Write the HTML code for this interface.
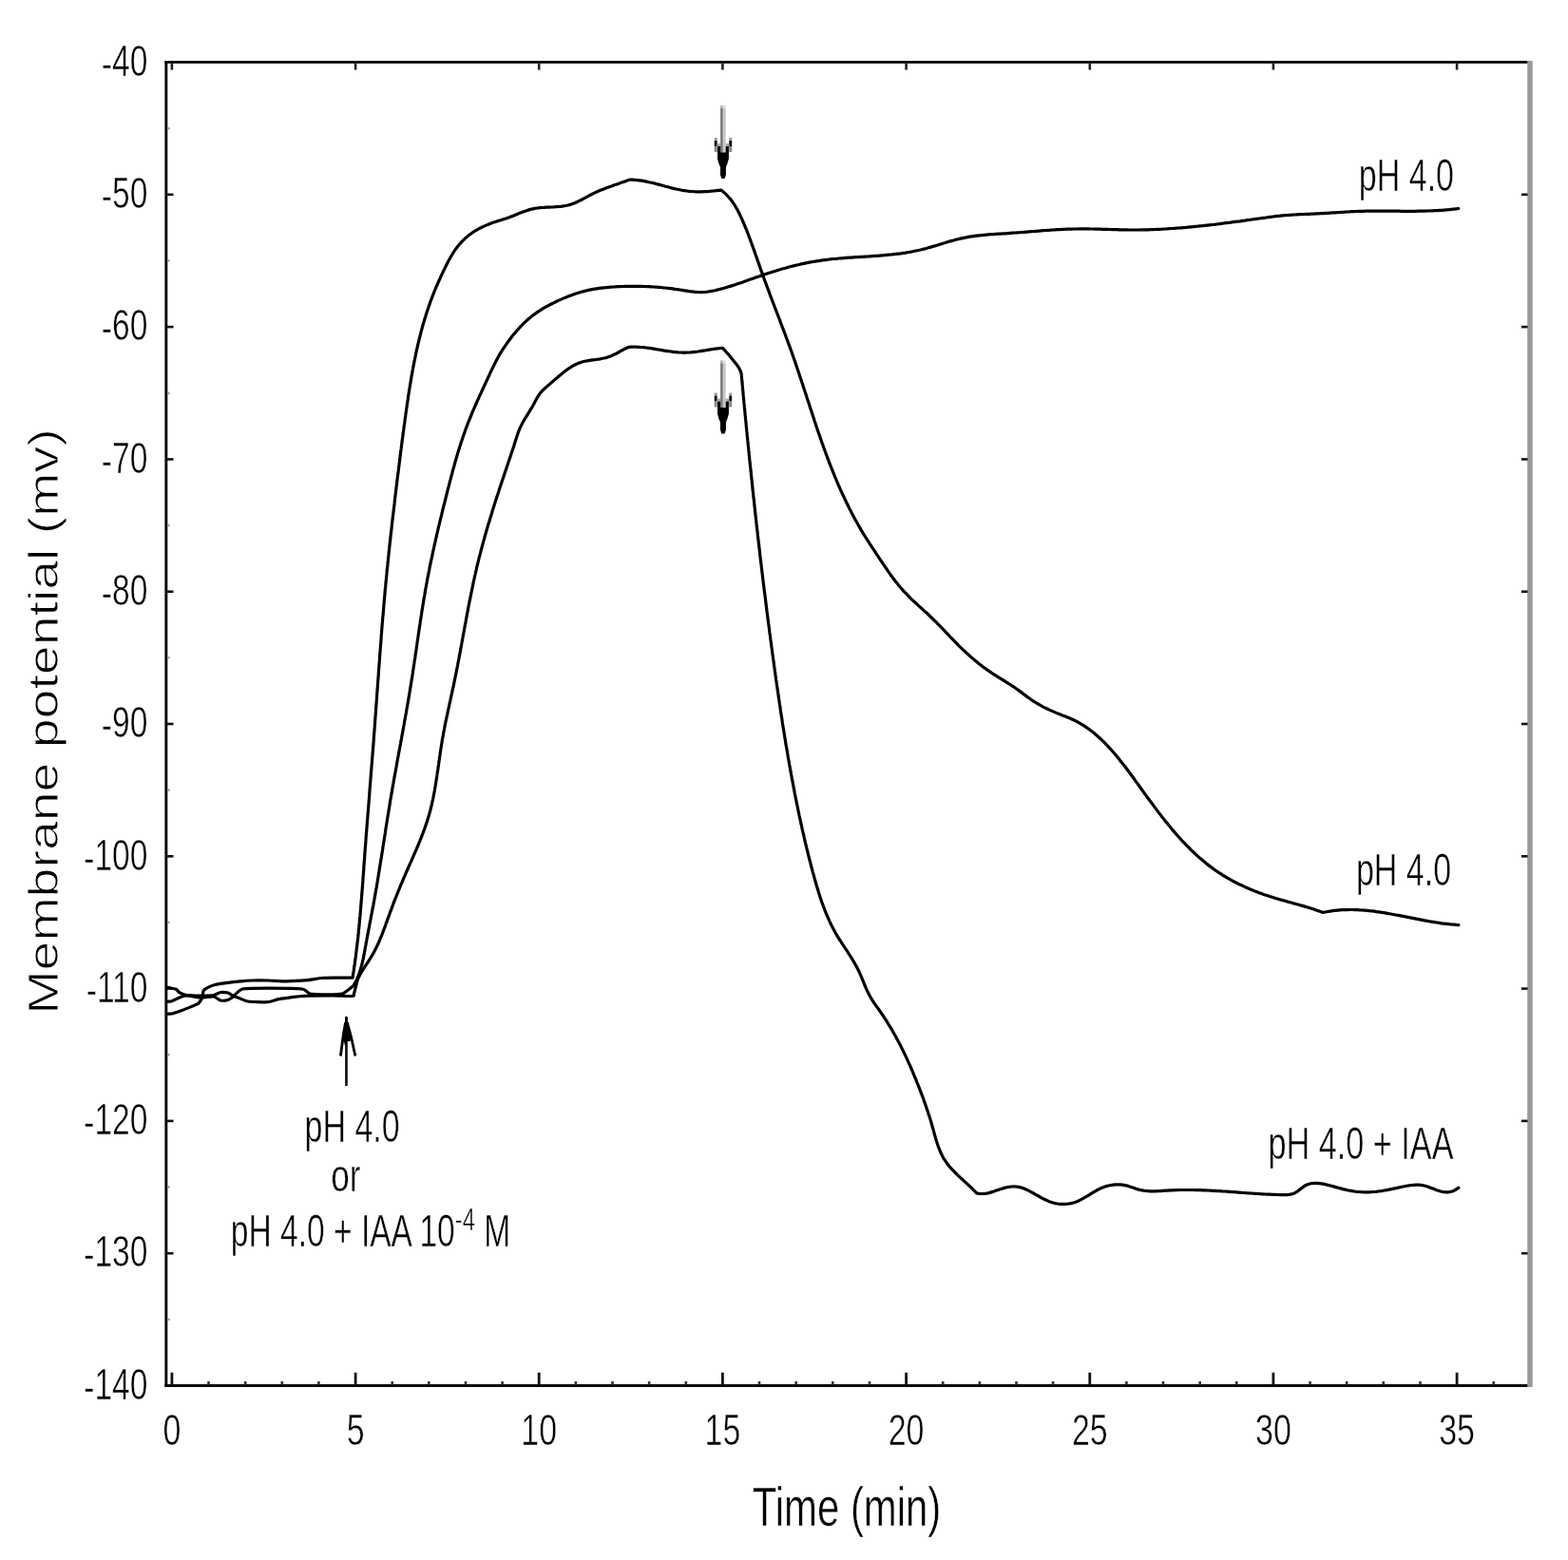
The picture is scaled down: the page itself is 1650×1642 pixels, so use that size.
<!DOCTYPE html>
<html><head><meta charset="utf-8"><title>Membrane potential vs time</title>
<style>html,body{margin:0;padding:0;background:#fff;}svg{display:block;}
text{font-family:"Liberation Sans",Arial,sans-serif;fill:#000;stroke:#fff;stroke-width:0.55px;}</style></head>
<body><svg width="1650" height="1642" viewBox="0 0 1650 1642">
<rect width="1650" height="1642" fill="#fff"/>
<rect x="173.5" y="64" width="1436" height="2.8" fill="#000"/>
<rect x="173.4" y="64" width="2.9" height="1396" fill="#000"/>
<rect x="173.4" y="1457" width="1436.5" height="2.9" fill="#000"/>
<rect x="1607.2" y="64" width="5.5" height="1396" fill="#9a9a9a"/>
<rect x="179.5" y="1444.7" width="2.8" height="13" fill="#111"/>
<rect x="179.6" y="66" width="2.6" height="7.5" fill="#222"/>
<rect x="218.2" y="1454" width="2.6" height="3.5" fill="#333"/>
<rect x="256.9" y="1454" width="2.6" height="3.5" fill="#333"/>
<rect x="295.5" y="1454" width="2.6" height="3.5" fill="#333"/>
<rect x="334.1" y="1454" width="2.6" height="3.5" fill="#333"/>
<rect x="372.7" y="1444.7" width="2.8" height="13" fill="#111"/>
<rect x="372.8" y="66" width="2.6" height="7.5" fill="#222"/>
<rect x="411.4" y="1454" width="2.6" height="3.5" fill="#333"/>
<rect x="450.0" y="1454" width="2.6" height="3.5" fill="#333"/>
<rect x="488.7" y="1454" width="2.6" height="3.5" fill="#333"/>
<rect x="527.3" y="1454" width="2.6" height="3.5" fill="#333"/>
<rect x="565.8" y="1444.7" width="2.8" height="13" fill="#111"/>
<rect x="565.9" y="66" width="2.6" height="7.5" fill="#222"/>
<rect x="604.6" y="1454" width="2.6" height="3.5" fill="#333"/>
<rect x="643.2" y="1454" width="2.6" height="3.5" fill="#333"/>
<rect x="681.8" y="1454" width="2.6" height="3.5" fill="#333"/>
<rect x="720.5" y="1454" width="2.6" height="3.5" fill="#333"/>
<rect x="759.0" y="1444.7" width="2.8" height="13" fill="#111"/>
<rect x="759.1" y="66" width="2.6" height="7.5" fill="#222"/>
<rect x="797.7" y="1454" width="2.6" height="3.5" fill="#333"/>
<rect x="836.4" y="1454" width="2.6" height="3.5" fill="#333"/>
<rect x="875.0" y="1454" width="2.6" height="3.5" fill="#333"/>
<rect x="913.7" y="1454" width="2.6" height="3.5" fill="#333"/>
<rect x="952.2" y="1444.7" width="2.8" height="13" fill="#111"/>
<rect x="952.3" y="66" width="2.6" height="7.5" fill="#222"/>
<rect x="990.9" y="1454" width="2.6" height="3.5" fill="#333"/>
<rect x="1029.6" y="1454" width="2.6" height="3.5" fill="#333"/>
<rect x="1068.2" y="1454" width="2.6" height="3.5" fill="#333"/>
<rect x="1106.8" y="1454" width="2.6" height="3.5" fill="#333"/>
<rect x="1145.4" y="1444.7" width="2.8" height="13" fill="#111"/>
<rect x="1145.5" y="66" width="2.6" height="7.5" fill="#222"/>
<rect x="1184.1" y="1454" width="2.6" height="3.5" fill="#333"/>
<rect x="1222.7" y="1454" width="2.6" height="3.5" fill="#333"/>
<rect x="1261.4" y="1454" width="2.6" height="3.5" fill="#333"/>
<rect x="1300.0" y="1454" width="2.6" height="3.5" fill="#333"/>
<rect x="1338.5" y="1444.7" width="2.8" height="13" fill="#111"/>
<rect x="1338.6" y="66" width="2.6" height="7.5" fill="#222"/>
<rect x="1377.3" y="1454" width="2.6" height="3.5" fill="#333"/>
<rect x="1415.9" y="1454" width="2.6" height="3.5" fill="#333"/>
<rect x="1454.5" y="1454" width="2.6" height="3.5" fill="#333"/>
<rect x="1493.2" y="1454" width="2.6" height="3.5" fill="#333"/>
<rect x="1531.7" y="1444.7" width="2.8" height="13" fill="#111"/>
<rect x="1531.8" y="66" width="2.6" height="7.5" fill="#222"/>
<rect x="1570.4" y="1454" width="2.6" height="3.5" fill="#333"/>
<rect x="176" y="203.5" width="6.5" height="2.6" fill="#111"/>
<rect x="1601" y="203.5" width="6.5" height="2.6" fill="#111"/>
<rect x="176" y="342.8" width="6.5" height="2.6" fill="#111"/>
<rect x="1601" y="342.8" width="6.5" height="2.6" fill="#111"/>
<rect x="176" y="482.1" width="6.5" height="2.6" fill="#111"/>
<rect x="1601" y="482.1" width="6.5" height="2.6" fill="#111"/>
<rect x="176" y="621.4" width="6.5" height="2.6" fill="#111"/>
<rect x="1601" y="621.4" width="6.5" height="2.6" fill="#111"/>
<rect x="176" y="760.7" width="6.5" height="2.6" fill="#111"/>
<rect x="1601" y="760.7" width="6.5" height="2.6" fill="#111"/>
<rect x="176" y="900.0" width="6.5" height="2.6" fill="#111"/>
<rect x="1601" y="900.0" width="6.5" height="2.6" fill="#111"/>
<rect x="176" y="1039.3" width="6.5" height="2.6" fill="#111"/>
<rect x="1601" y="1039.3" width="6.5" height="2.6" fill="#111"/>
<rect x="176" y="1178.6" width="6.5" height="2.6" fill="#111"/>
<rect x="1601" y="1178.6" width="6.5" height="2.6" fill="#111"/>
<rect x="176" y="1317.9" width="6.5" height="2.6" fill="#111"/>
<rect x="1601" y="1317.9" width="6.5" height="2.6" fill="#111"/>
<rect x="176" y="134.0" width="2.5" height="2.4" fill="#999"/>
<rect x="176" y="273.2" width="2.5" height="2.4" fill="#999"/>
<rect x="176" y="412.6" width="2.5" height="2.4" fill="#999"/>
<rect x="176" y="551.8" width="2.5" height="2.4" fill="#999"/>
<rect x="176" y="691.1" width="2.5" height="2.4" fill="#999"/>
<rect x="176" y="830.4" width="2.5" height="2.4" fill="#999"/>
<rect x="176" y="969.8" width="2.5" height="2.4" fill="#999"/>
<rect x="176" y="1109.0" width="2.5" height="2.4" fill="#999"/>
<rect x="176" y="1248.3" width="2.5" height="2.4" fill="#999"/>
<rect x="176" y="1387.6" width="2.5" height="2.4" fill="#999"/>
<text x="0" y="0" transform="translate(155.3,79.7) scale(0.721,1)" text-anchor="end" font-size="46.5"><tspan dy="3">-</tspan><tspan dy="-3">40</tspan></text>
<text x="0" y="0" transform="translate(155.3,219.0) scale(0.721,1)" text-anchor="end" font-size="46.5"><tspan dy="3">-</tspan><tspan dy="-3">50</tspan></text>
<text x="0" y="0" transform="translate(155.3,358.3) scale(0.721,1)" text-anchor="end" font-size="46.5"><tspan dy="3">-</tspan><tspan dy="-3">60</tspan></text>
<text x="0" y="0" transform="translate(155.3,497.6) scale(0.721,1)" text-anchor="end" font-size="46.5"><tspan dy="3">-</tspan><tspan dy="-3">70</tspan></text>
<text x="0" y="0" transform="translate(155.3,636.9) scale(0.721,1)" text-anchor="end" font-size="46.5"><tspan dy="3">-</tspan><tspan dy="-3">80</tspan></text>
<text x="0" y="0" transform="translate(155.3,776.2) scale(0.721,1)" text-anchor="end" font-size="46.5"><tspan dy="3">-</tspan><tspan dy="-3">90</tspan></text>
<text x="0" y="0" transform="translate(155.3,915.5) scale(0.721,1)" text-anchor="end" font-size="46.5"><tspan dy="3">-</tspan><tspan dy="-3">100</tspan></text>
<text x="0" y="0" transform="translate(155.3,1054.8) scale(0.721,1)" text-anchor="end" font-size="46.5"><tspan dy="3">-</tspan><tspan dy="-3">110</tspan></text>
<text x="0" y="0" transform="translate(155.3,1194.1) scale(0.721,1)" text-anchor="end" font-size="46.5"><tspan dy="3">-</tspan><tspan dy="-3">120</tspan></text>
<text x="0" y="0" transform="translate(155.3,1333.4) scale(0.721,1)" text-anchor="end" font-size="46.5"><tspan dy="3">-</tspan><tspan dy="-3">130</tspan></text>
<text x="0" y="0" transform="translate(155.3,1472.7) scale(0.721,1)" text-anchor="end" font-size="46.5"><tspan dy="3">-</tspan><tspan dy="-3">140</tspan></text>
<text x="0" y="0" transform="translate(180.9,1521.2) scale(0.73,1)" text-anchor="middle" font-size="46.5">0</text>
<text x="0" y="0" transform="translate(374.1,1521.2) scale(0.73,1)" text-anchor="middle" font-size="46.5">5</text>
<text x="0" y="0" transform="translate(567.2,1521.2) scale(0.73,1)" text-anchor="middle" font-size="46.5">10</text>
<text x="0" y="0" transform="translate(760.4,1521.2) scale(0.73,1)" text-anchor="middle" font-size="46.5">15</text>
<text x="0" y="0" transform="translate(953.6,1521.2) scale(0.73,1)" text-anchor="middle" font-size="46.5">20</text>
<text x="0" y="0" transform="translate(1146.8,1521.2) scale(0.73,1)" text-anchor="middle" font-size="46.5">25</text>
<text x="0" y="0" transform="translate(1339.9,1521.2) scale(0.73,1)" text-anchor="middle" font-size="46.5">30</text>
<text x="0" y="0" transform="translate(1533.1,1521.2) scale(0.73,1)" text-anchor="middle" font-size="46.5">35</text>
<text x="0" y="0" transform="translate(891,1605.8) scale(0.735,1)" text-anchor="middle" font-size="57">Time (min)</text>
<text x="0" y="0" transform="translate(61,759.5) rotate(-90) scale(1.246,1)" text-anchor="middle" font-size="44.5" style="stroke-width:0.9px">Membrane potential (mv)</text>
<text x="0" y="0" transform="translate(1530,200.7) scale(0.716,1)" text-anchor="end" font-size="47.5">pH 4.0</text>
<text x="0" y="0" transform="translate(1527.1,931.5) scale(0.716,1)" text-anchor="end" font-size="47.5">pH 4.0</text>
<text x="0" y="0" transform="translate(1529.5,1220.2) scale(0.706,1)" text-anchor="end" font-size="48.5">pH 4.0 + IAA</text>
<text x="0" y="0" transform="translate(370.6,1201.6) scale(0.708,1)" text-anchor="middle" font-size="48">pH 4.0</text>
<text x="0" y="0" transform="translate(363.8,1254) scale(0.73,1)" text-anchor="middle" font-size="48">or</text>
<text x="0" y="0" transform="translate(390,1312.1) scale(0.699,1)" text-anchor="middle" font-size="48">pH 4.0 + IAA 10<tspan font-size="34" dy="-17">-4</tspan><tspan dy="17"> M</tspan></text>
<path d="M176.5,1067.2 C177.1,1067.2 180.4,1067.1 182.0,1066.7 C183.6,1066.3 190.0,1064.0 192.0,1063.3 C194.0,1062.6 200.3,1060.0 202.0,1059.3 C203.7,1058.6 207.6,1057.2 208.7,1056.3 C209.8,1055.4 212.1,1051.4 212.7,1050.0 C213.3,1048.6 213.4,1043.3 214.7,1042.0 C216.0,1040.7 222.2,1037.5 225.3,1036.7 C228.4,1035.9 241.3,1034.2 245.3,1033.7 C249.3,1033.2 261.6,1032.2 265.3,1032.0 C269.0,1031.8 278.4,1031.9 282.0,1032.0 C285.6,1032.1 297.6,1032.8 301.8,1032.8 C306.0,1032.8 320.0,1032.0 323.6,1031.7 C327.2,1031.4 335.3,1029.8 338.2,1029.5 C341.1,1029.2 349.4,1029.2 352.7,1029.2 C356.0,1029.2 369.2,1029.2 371.0,1029.2 L371.0,1029.2 L371.4,1026.7 L371.8,1024.2 L372.2,1021.8 L372.5,1019.3 L372.9,1016.8 L373.3,1014.3 L373.6,1011.8 L373.9,1009.4 L374.3,1006.9 L374.6,1004.4 L374.9,1001.9 L375.2,999.4 L375.5,996.9 L375.8,994.4 L376.1,991.9 L376.4,989.5 L376.7,987.0 L376.9,984.5 L377.2,982.0 L377.4,979.5 L377.7,977.0 L377.9,974.5 L378.2,972.0 L378.4,969.5 L378.6,967.0 L378.9,964.5 L379.1,962.0 L379.3,959.5 L379.5,957.0 L379.7,954.5 L379.9,952.0 L380.1,949.5 L380.3,947.0 L380.5,944.5 L380.7,942.0 L380.9,939.5 L381.1,937.0 L381.3,934.5 L381.5,932.0 L381.7,929.5 L381.9,927.0 L382.0,924.5 L382.2,922.0 L382.4,919.5 L382.6,917.0 L382.8,914.5 L382.9,912.0 L383.1,909.5 L383.3,907.0 L383.5,904.5 L383.7,902.0 L383.8,899.5 L384.0,897.0 L384.2,894.5 L384.4,892.0 L384.6,889.5 L384.8,887.0 L385.0,884.5 L385.1,882.1 L385.3,879.6 L385.5,877.1 L385.7,874.6 L385.9,872.1 L386.1,869.6 L386.3,867.1 L386.5,864.6 L386.7,862.1 L386.9,859.6 L387.1,857.1 L387.3,854.6 L387.5,852.1 L387.7,849.6 L387.9,847.1 L388.1,844.6 L388.3,842.1 L388.5,839.6 L388.7,837.1 L388.8,834.6 L389.0,832.1 L389.2,829.6 L389.4,827.1 L389.6,824.6 L389.8,822.1 L390.0,819.6 L390.2,817.1 L390.4,814.6 L390.6,812.1 L390.8,809.6 L391.0,807.1 L391.2,804.6 L391.4,802.1 L391.6,799.6 L391.8,797.1 L392.0,794.6 L392.2,792.1 L392.4,789.6 L392.6,787.1 L392.8,784.6 L393.0,782.1 L393.2,779.6 L393.3,777.1 L393.5,774.6 L393.7,772.1 L393.9,769.6 L394.1,767.1 L394.3,764.6 L394.5,762.1 L394.6,759.7 L394.8,757.2 L395.0,754.7 L395.2,752.2 L395.4,749.7 L395.6,747.1 L395.7,744.6 L395.9,742.1 L396.1,739.6 L396.3,737.1 L396.5,734.6 L396.6,732.1 L396.8,729.6 L397.0,727.1 L397.2,724.6 L397.4,722.1 L397.5,719.6 L397.7,717.1 L397.9,714.6 L398.1,712.1 L398.3,709.6 L398.4,707.1 L398.6,704.6 L398.8,702.1 L399.0,699.6 L399.2,697.1 L399.4,694.6 L399.5,692.1 L399.7,689.6 L399.9,687.1 L400.1,684.6 L400.3,682.1 L400.5,679.6 L400.7,677.1 L400.9,674.6 L401.1,672.1 L401.2,669.6 L401.4,667.1 L401.6,664.6 L401.8,662.1 L402.0,659.6 L402.2,657.1 L402.4,654.6 L402.6,652.1 L402.8,649.6 L403.1,647.1 L403.3,644.6 L403.5,642.1 L403.7,639.6 L403.9,637.1 L404.1,634.6 L404.3,632.1 L404.5,629.6 L404.8,627.1 L405.0,624.6 L405.2,622.2 L405.4,619.7 L405.7,617.2 L405.9,614.7 L406.1,612.2 L406.4,609.7 L406.6,607.2 L406.9,604.7 L407.1,602.2 L407.3,599.7 L407.6,597.2 L407.9,594.7 L408.1,592.2 L408.4,589.7 L408.6,587.2 L408.9,584.7 L409.1,582.2 L409.4,579.7 L409.7,577.2 L409.9,574.7 L410.2,572.2 L410.5,569.8 L410.8,567.3 L411.0,564.8 L411.3,562.3 L411.6,559.8 L411.9,557.3 L412.2,554.8 L412.4,552.3 L412.7,549.8 L413.0,547.3 L413.3,544.8 L413.6,542.4 L413.9,539.9 L414.2,537.4 L414.5,534.9 L414.8,532.4 L415.1,529.9 L415.3,527.4 L415.6,524.9 L415.9,522.4 L416.2,520.0 L416.5,517.5 L416.8,515.0 L417.1,512.5 L417.4,510.0 L417.7,507.5 L418.0,505.0 L418.3,502.6 L418.6,500.1 L419.0,497.6 L419.3,495.1 L419.6,492.6 L419.9,490.1 L420.2,487.6 L420.5,485.2 L420.8,482.7 L421.1,480.2 L421.4,477.7 L421.7,475.2 L422.1,472.7 L422.4,470.3 L422.7,467.8 L423.0,465.3 L423.3,462.8 L423.7,460.3 L424.0,457.8 L424.3,455.3 L424.7,452.9 L425.0,450.4 L425.3,447.9 L425.7,445.4 L426.0,442.9 L426.3,440.4 L426.7,437.9 L427.0,435.5 L427.4,433.0 L427.7,430.5 L428.1,428.0 L428.4,425.5 L428.8,423.0 L429.2,420.5 L429.5,418.0 L429.9,415.6 L430.3,413.1 L430.7,410.6 L431.1,408.1 L431.5,405.6 L431.9,403.2 L432.3,400.7 L432.7,398.2 L433.1,395.7 L433.6,393.3 L434.0,390.8 L434.5,388.3 L434.9,385.9 L435.4,383.4 L435.9,380.9 L436.4,378.5 L436.9,376.0 L437.4,373.6 L437.9,371.1 L438.4,368.7 L439.0,366.2 L439.5,363.8 L440.1,361.3 L440.7,358.9 L441.3,356.5 L441.9,354.1 L442.5,351.6 L443.1,349.2 L443.8,346.8 L444.4,344.4 L445.1,342.0 L445.8,339.6 L446.5,337.2 L447.2,334.8 L448.0,332.4 L448.7,330.0 L449.5,327.7 L450.3,325.3 L451.1,322.9 L451.9,320.6 L452.7,318.2 L453.6,315.9 L454.5,313.5 L455.4,311.2 L456.3,308.8 L457.2,306.5 L458.2,304.2 L459.1,301.9 L460.1,299.6 L461.1,297.3 L462.1,295.0 L463.2,292.7 L464.2,290.4 L465.3,288.1 L466.4,285.8 L467.5,283.5 L468.6,281.3 L469.7,279.0 L470.9,276.7 L472.0,274.5 L473.3,272.3 L474.5,270.1 L475.8,268.0 L477.1,265.8 L478.5,263.7 L479.9,261.7 L481.4,259.7 L482.9,257.8 L484.6,255.9 L486.2,254.1 L488.0,252.3 L489.8,250.6 L491.7,249.0 L493.6,247.4 L495.6,246.0 L497.7,244.5 L499.8,243.2 L502.0,241.9 L504.2,240.7 L506.4,239.5 L508.7,238.4 L511.0,237.4 L513.3,236.4 L515.7,235.5 L518.0,234.6 L520.4,233.8 L522.8,233.0 L525.1,232.2 L527.5,231.5 L529.9,230.7 L532.3,230.0 L534.7,229.2 L537.0,228.3 L539.4,227.4 L541.7,226.5 L544.1,225.5 L546.4,224.6 L548.8,223.6 L551.1,222.7 L553.5,221.9 L555.9,221.1 L558.2,220.4 L560.7,219.8 L563.1,219.4 L565.5,219.0 L568.0,218.7 L570.4,218.5 L572.9,218.4 L575.4,218.2 L577.9,218.1 L580.4,218.0 L582.9,217.9 L585.3,217.7 L587.8,217.5 L590.3,217.3 L592.8,216.9 L595.2,216.5 L597.6,216.0 L600.0,215.4 L602.3,214.6 L604.6,213.7 L606.9,212.7 L609.2,211.6 L611.5,210.5 L613.7,209.3 L616.0,208.1 L618.2,206.9 L620.4,205.7 L622.7,204.5 L625.0,203.4 L627.2,202.3 L629.5,201.3 L631.8,200.3 L634.1,199.4 L636.5,198.5 L638.8,197.6 L641.1,196.7 L643.5,195.9 L645.8,195.0 L648.2,194.2 L650.6,193.4 L652.9,192.6 L655.3,191.7 L657.7,190.9 L660.0,190.1 L662.4,189.2 L665.0,189.2 L667.6,189.4 L670.2,189.6 L672.7,189.9 L675.3,190.2 L677.8,190.6 L680.3,191.1 L682.9,191.7 L685.4,192.2 L687.9,192.8 L690.4,193.5 L692.9,194.1 L695.4,194.8 L697.9,195.5 L700.4,196.2 L702.9,196.8 L705.4,197.5 L707.8,198.1 L710.3,198.7 L712.8,199.3 L715.3,199.8 L717.9,200.3 L720.4,200.7 L722.9,201.0 L725.4,201.3 L728.0,201.5 L730.5,201.7 L733.1,201.8 L735.7,201.8 L738.2,201.8 L740.8,201.7 L743.4,201.6 L746.0,201.5 L748.5,201.2 L751.1,201.0 L753.7,200.7 L756.3,200.4 L758.9,200.1 L760.9,201.7 L762.8,203.4 L764.6,205.1 L766.3,207.0 L768.0,208.8 L769.5,210.8 L771.0,212.8 L772.4,214.9 L773.7,217.0 L775.0,219.1 L776.2,221.3 L777.3,223.5 L778.5,225.8 L779.5,228.1 L780.6,230.3 L781.6,232.7 L782.6,235.0 L783.6,237.3 L784.5,239.6 L785.5,241.9 L786.4,244.3 L787.3,246.6 L788.2,249.0 L789.1,251.3 L790.0,253.7 L790.8,256.0 L791.7,258.4 L792.5,260.7 L793.4,263.1 L794.2,265.5 L795.0,267.8 L795.9,270.2 L796.7,272.6 L797.5,274.9 L798.4,277.3 L799.2,279.7 L800.0,282.0 L800.8,284.4 L801.7,286.8 L802.5,289.1 L803.4,291.5 L804.2,293.8 L805.1,296.2 L806.0,298.5 L806.8,300.9 L807.7,303.2 L808.6,305.6 L809.5,307.9 L810.3,310.3 L811.2,312.6 L812.1,315.0 L813.0,317.3 L813.9,319.7 L814.8,322.0 L815.7,324.3 L816.6,326.7 L817.5,329.0 L818.4,331.4 L819.3,333.7 L820.2,336.0 L821.0,338.4 L821.9,340.7 L822.8,343.1 L823.7,345.4 L824.6,347.8 L825.5,350.1 L826.4,352.5 L827.2,354.8 L828.1,357.2 L829.0,359.5 L829.8,361.9 L830.7,364.2 L831.6,366.6 L832.4,368.9 L833.3,371.3 L834.1,373.7 L834.9,376.0 L835.8,378.4 L836.6,380.8 L837.4,383.1 L838.2,385.5 L839.0,387.9 L839.8,390.2 L840.6,392.6 L841.4,395.0 L842.2,397.4 L843.0,399.8 L843.8,402.1 L844.6,404.5 L845.3,406.9 L846.1,409.3 L846.9,411.7 L847.7,414.1 L848.5,416.4 L849.2,418.8 L850.0,421.2 L850.8,423.6 L851.6,426.0 L852.3,428.4 L853.1,430.7 L853.9,433.1 L854.7,435.5 L855.5,437.9 L856.3,440.3 L857.0,442.7 L857.8,445.0 L858.6,447.4 L859.4,449.8 L860.2,452.2 L861.0,454.5 L861.8,456.9 L862.7,459.3 L863.5,461.7 L864.3,464.0 L865.1,466.4 L866.0,468.8 L866.8,471.1 L867.7,473.5 L868.5,475.8 L869.4,478.2 L870.3,480.5 L871.1,482.9 L872.0,485.2 L872.9,487.6 L873.8,489.9 L874.8,492.3 L875.7,494.6 L876.6,496.9 L877.6,499.2 L878.5,501.6 L879.5,503.9 L880.4,506.2 L881.4,508.5 L882.4,510.8 L883.4,513.1 L884.4,515.4 L885.5,517.7 L886.5,520.0 L887.6,522.2 L888.6,524.5 L889.7,526.8 L890.8,529.0 L891.9,531.3 L893.0,533.5 L894.1,535.8 L895.3,538.0 L896.4,540.2 L897.6,542.5 L898.8,544.7 L900.0,546.9 L901.2,549.1 L902.4,551.2 L903.6,553.4 L904.9,555.6 L906.1,557.8 L907.4,559.9 L908.7,562.1 L910.0,564.2 L911.4,566.3 L912.7,568.4 L914.1,570.5 L915.4,572.6 L916.8,574.7 L918.2,576.8 L919.6,578.9 L920.9,581.0 L922.3,583.1 L923.7,585.2 L925.1,587.3 L926.5,589.4 L927.9,591.5 L929.3,593.6 L930.7,595.6 L932.2,597.7 L933.6,599.8 L935.0,601.9 L936.4,603.9 L937.9,606.0 L939.4,608.0 L940.9,610.0 L942.4,612.0 L944.0,613.9 L945.5,615.9 L947.1,617.8 L948.8,619.7 L950.4,621.6 L952.1,623.4 L953.9,625.2 L955.6,627.0 L957.4,628.8 L959.1,630.6 L960.9,632.3 L962.8,634.0 L964.6,635.7 L966.4,637.4 L968.3,639.1 L970.2,640.8 L972.0,642.5 L973.9,644.1 L975.8,645.8 L977.6,647.5 L979.4,649.3 L981.2,651.0 L983.0,652.8 L984.8,654.5 L986.5,656.3 L988.3,658.1 L990.0,659.9 L991.8,661.7 L993.5,663.5 L995.2,665.4 L997.0,667.2 L998.7,669.0 L1000.4,670.8 L1002.2,672.6 L1003.9,674.4 L1005.7,676.2 L1007.4,678.0 L1009.2,679.8 L1011.0,681.6 L1012.8,683.3 L1014.6,685.0 L1016.4,686.7 L1018.3,688.4 L1020.1,690.1 L1022.0,691.8 L1023.9,693.4 L1025.8,695.0 L1027.7,696.6 L1029.7,698.2 L1031.7,699.7 L1033.6,701.3 L1035.6,702.8 L1037.7,704.2 L1039.7,705.7 L1041.8,707.1 L1043.8,708.5 L1045.9,709.9 L1048.0,711.2 L1050.2,712.6 L1052.3,713.9 L1054.4,715.2 L1056.6,716.5 L1058.7,717.8 L1060.8,719.1 L1063.0,720.5 L1065.0,721.8 L1067.1,723.2 L1069.2,724.7 L1071.2,726.1 L1073.2,727.6 L1075.2,729.1 L1077.2,730.6 L1079.2,732.1 L1081.2,733.6 L1083.2,735.0 L1085.2,736.5 L1087.2,737.8 L1089.3,739.2 L1091.4,740.5 L1093.6,741.7 L1095.7,742.9 L1097.9,744.1 L1100.2,745.2 L1102.4,746.3 L1104.7,747.4 L1107.0,748.4 L1109.3,749.4 L1111.6,750.4 L1113.9,751.3 L1116.3,752.2 L1118.6,753.2 L1121.0,754.1 L1123.3,755.0 L1125.7,756.0 L1128.0,757.0 L1130.3,758.0 L1132.5,759.2 L1134.7,760.3 L1136.9,761.6 L1139.0,762.8 L1141.1,764.2 L1143.2,765.6 L1145.2,767.0 L1147.2,768.5 L1149.2,770.0 L1151.2,771.5 L1153.1,773.2 L1155.0,774.8 L1156.8,776.5 L1158.6,778.2 L1160.4,779.9 L1162.2,781.7 L1164.0,783.5 L1165.7,785.3 L1167.4,787.1 L1169.1,789.0 L1170.7,790.8 L1172.4,792.7 L1174.0,794.6 L1175.6,796.6 L1177.2,798.5 L1178.7,800.4 L1180.3,802.4 L1181.8,804.3 L1183.4,806.3 L1184.9,808.3 L1186.4,810.3 L1187.9,812.3 L1189.3,814.3 L1190.8,816.3 L1192.3,818.3 L1193.8,820.4 L1195.2,822.4 L1196.7,824.4 L1198.2,826.5 L1199.6,828.5 L1201.1,830.5 L1202.6,832.6 L1204.0,834.6 L1205.5,836.7 L1207.0,838.7 L1208.5,840.7 L1210.0,842.8 L1211.5,844.8 L1213.0,846.8 L1214.5,848.9 L1216.0,850.9 L1217.5,852.9 L1219.0,854.9 L1220.6,856.9 L1222.1,858.9 L1223.7,860.9 L1225.2,862.9 L1226.8,864.9 L1228.4,866.8 L1230.0,868.8 L1231.6,870.7 L1233.2,872.7 L1234.8,874.6 L1236.5,876.5 L1238.1,878.4 L1239.8,880.3 L1241.4,882.1 L1243.1,884.0 L1244.8,885.8 L1246.6,887.7 L1248.3,889.5 L1250.0,891.2 L1251.8,893.0 L1253.6,894.8 L1255.4,896.5 L1257.2,898.2 L1259.0,899.9 L1260.8,901.6 L1262.7,903.2 L1264.6,904.8 L1266.5,906.4 L1268.4,908.0 L1270.3,909.6 L1272.3,911.1 L1274.3,912.6 L1276.3,914.1 L1278.3,915.5 L1280.3,917.0 L1282.4,918.4 L1284.5,919.7 L1286.6,921.1 L1288.7,922.4 L1290.8,923.7 L1293.0,924.9 L1295.2,926.1 L1297.4,927.3 L1299.6,928.5 L1301.9,929.6 L1304.1,930.8 L1306.4,931.8 L1308.7,932.9 L1311.0,934.0 L1313.3,935.0 L1315.6,936.0 L1318.0,936.9 L1320.3,937.9 L1322.7,938.8 L1325.0,939.7 L1327.4,940.5 L1329.8,941.4 L1332.2,942.2 L1334.6,943.0 L1336.9,943.8 L1339.3,944.5 L1341.7,945.3 L1344.1,946.0 L1346.5,946.7 L1348.9,947.4 L1351.3,948.0 L1353.7,948.7 L1356.1,949.4 L1358.5,950.0 L1360.9,950.7 L1363.3,951.4 L1365.7,952.0 L1368.1,952.7 L1370.5,953.4 L1372.9,954.1 L1375.3,954.8 L1377.7,955.5 L1380.1,956.3 L1382.5,957.1 L1384.9,957.9 L1387.3,958.7 L1389.6,959.6 L1392.0,960.5 L1394.6,960.0 L1397.2,959.5 L1399.8,959.1 L1402.4,958.7 L1404.9,958.4 L1407.5,958.1 L1410.1,957.9 L1412.7,957.7 L1415.2,957.6 L1417.8,957.6 L1420.4,957.5 L1422.9,957.5 L1425.5,957.6 L1428.0,957.7 L1430.6,957.8 L1433.1,958.0 L1435.7,958.2 L1438.2,958.4 L1440.8,958.7 L1443.3,958.9 L1445.9,959.2 L1448.4,959.6 L1451.0,959.9 L1453.5,960.3 L1456.0,960.7 L1458.6,961.1 L1461.1,961.6 L1463.6,962.0 L1466.2,962.5 L1468.7,963.0 L1471.3,963.4 L1473.8,963.9 L1476.3,964.4 L1478.9,964.9 L1481.4,965.4 L1483.9,965.9 L1486.5,966.4 L1489.0,966.9 L1491.5,967.4 L1494.1,967.9 L1496.6,968.4 L1499.2,968.9 L1501.7,969.3 L1504.2,969.8 L1506.8,970.2 L1509.3,970.6 L1511.9,971.0 L1514.4,971.4 L1517.0,971.8 L1519.5,972.1 L1522.1,972.4 L1524.6,972.7 L1527.2,973.0 L1529.8,973.2 L1532.3,973.4 L1534.9,973.6" fill="none" stroke="#000" stroke-width="3.2" stroke-linejoin="round" stroke-linecap="round"/>
<path d="M176.7,1039.3 C177.6,1039.5 184.1,1040.8 185.3,1041.3 C186.5,1041.8 187.7,1044.1 188.7,1044.7 C189.7,1045.3 193.0,1047.0 195.3,1047.3 C197.6,1047.6 209.0,1048.0 212.0,1048.0 C215.0,1048.0 223.0,1047.8 225.0,1047.5 C227.0,1047.2 230.5,1044.8 232.0,1044.5 C233.5,1044.2 238.6,1044.7 240.0,1045.0 C241.4,1045.3 244.5,1048.4 246.0,1048.0 C247.5,1047.6 251.7,1041.8 255.3,1041.0 C258.9,1040.2 275.7,1040.2 282.0,1040.2 C288.3,1040.2 313.6,1040.4 318.0,1041.0 C322.4,1041.6 323.3,1045.4 326.0,1046.0 C328.7,1046.6 341.6,1046.8 345.0,1046.8 C348.4,1046.8 357.8,1046.5 360.0,1046.0 C362.2,1045.5 365.8,1042.3 367.0,1041.5 C368.2,1040.7 371.5,1037.9 372.0,1037.5 L372.0,1037.5 L373.2,1035.3 L374.4,1033.1 L375.5,1030.9 L376.4,1028.6 L377.4,1026.3 L378.2,1024.0 L379.0,1021.6 L379.7,1019.3 L380.3,1016.9 L381.0,1014.5 L381.5,1012.0 L382.1,1009.6 L382.6,1007.1 L383.1,1004.7 L383.5,1002.2 L384.0,999.7 L384.4,997.3 L384.9,994.8 L385.3,992.3 L385.8,989.8 L386.2,987.4 L386.7,984.9 L387.2,982.4 L387.6,980.0 L388.1,977.5 L388.6,975.1 L389.0,972.6 L389.5,970.2 L390.0,967.7 L390.4,965.2 L390.9,962.8 L391.4,960.3 L391.8,957.9 L392.3,955.4 L392.8,953.0 L393.2,950.5 L393.7,948.1 L394.1,945.6 L394.5,943.1 L395.0,940.7 L395.4,938.2 L395.8,935.7 L396.3,933.3 L396.7,930.8 L397.1,928.4 L397.5,925.9 L397.9,923.4 L398.3,920.9 L398.7,918.5 L399.1,916.0 L399.5,913.5 L399.9,911.1 L400.3,908.6 L400.7,906.1 L401.1,903.7 L401.5,901.2 L401.9,898.7 L402.3,896.2 L402.7,893.8 L403.0,891.3 L403.4,888.8 L403.8,886.3 L404.2,883.9 L404.6,881.4 L405.0,878.9 L405.4,876.5 L405.7,874.0 L406.1,871.5 L406.5,869.0 L406.9,866.6 L407.3,864.1 L407.7,861.6 L408.1,859.1 L408.5,856.7 L408.9,854.2 L409.3,851.7 L409.7,849.3 L410.1,846.8 L410.5,844.3 L410.9,841.8 L411.3,839.4 L411.7,836.9 L412.2,834.4 L412.6,832.0 L413.0,829.5 L413.4,827.0 L413.9,824.6 L414.3,822.1 L414.7,819.6 L415.2,817.2 L415.6,814.7 L416.1,812.3 L416.5,809.8 L417.0,807.3 L417.4,804.9 L417.8,802.4 L418.3,799.9 L418.7,797.5 L419.2,795.0 L419.6,792.6 L420.1,790.1 L420.6,787.6 L421.0,785.2 L421.5,782.7 L421.9,780.2 L422.4,777.8 L422.8,775.3 L423.3,772.9 L423.7,770.4 L424.2,767.9 L424.6,765.5 L425.1,763.0 L425.5,760.5 L425.9,758.1 L426.4,755.6 L426.8,753.2 L427.3,750.7 L427.7,748.2 L428.1,745.8 L428.6,743.3 L429.0,740.8 L429.4,738.4 L429.8,735.9 L430.3,733.4 L430.7,731.0 L431.1,728.5 L431.5,726.0 L431.9,723.6 L432.3,721.1 L432.7,718.6 L433.1,716.1 L433.5,713.7 L433.9,711.2 L434.3,708.7 L434.6,706.2 L435.0,703.8 L435.4,701.3 L435.8,698.8 L436.1,696.3 L436.5,693.9 L436.9,691.4 L437.2,688.9 L437.6,686.4 L438.0,683.9 L438.3,681.5 L438.7,679.0 L439.0,676.5 L439.4,674.0 L439.8,671.5 L440.1,669.1 L440.5,666.6 L440.9,664.1 L441.2,661.6 L441.6,659.2 L442.0,656.7 L442.3,654.2 L442.7,651.7 L443.1,649.2 L443.5,646.8 L443.8,644.3 L444.2,641.8 L444.6,639.4 L445.0,636.9 L445.4,634.4 L445.8,631.9 L446.2,629.5 L446.7,627.0 L447.1,624.5 L447.5,622.1 L447.9,619.6 L448.4,617.2 L448.8,614.7 L449.3,612.2 L449.7,609.8 L450.2,607.3 L450.7,604.9 L451.2,602.4 L451.7,600.0 L452.1,597.5 L452.6,595.1 L453.1,592.6 L453.6,590.2 L454.2,587.7 L454.7,585.3 L455.2,582.8 L455.7,580.4 L456.3,577.9 L456.8,575.5 L457.3,573.0 L457.9,570.6 L458.4,568.2 L459.0,565.7 L459.5,563.3 L460.1,560.8 L460.7,558.4 L461.2,556.0 L461.8,553.5 L462.4,551.1 L463.0,548.7 L463.6,546.2 L464.2,543.8 L464.8,541.4 L465.3,538.9 L465.9,536.5 L466.5,534.1 L467.1,531.6 L467.8,529.2 L468.4,526.8 L469.0,524.4 L469.6,521.9 L470.2,519.5 L470.8,517.1 L471.4,514.6 L472.1,512.2 L472.7,509.8 L473.3,507.3 L474.0,504.9 L474.6,502.5 L475.2,500.1 L475.9,497.7 L476.5,495.2 L477.2,492.8 L477.9,490.4 L478.5,488.0 L479.2,485.6 L479.9,483.2 L480.6,480.8 L481.3,478.4 L482.0,476.0 L482.8,473.6 L483.5,471.2 L484.3,468.8 L485.0,466.4 L485.8,464.0 L486.6,461.7 L487.4,459.3 L488.2,456.9 L489.1,454.6 L489.9,452.2 L490.8,449.9 L491.6,447.6 L492.5,445.2 L493.5,442.9 L494.4,440.6 L495.3,438.3 L496.3,436.0 L497.2,433.7 L498.2,431.4 L499.2,429.1 L500.2,426.8 L501.2,424.5 L502.2,422.2 L503.3,419.9 L504.3,417.6 L505.3,415.4 L506.4,413.1 L507.4,410.8 L508.5,408.5 L509.5,406.3 L510.6,404.0 L511.6,401.7 L512.7,399.5 L513.7,397.2 L514.8,394.9 L515.8,392.6 L516.9,390.4 L518.0,388.1 L519.1,385.9 L520.2,383.6 L521.3,381.4 L522.4,379.2 L523.6,377.0 L524.8,374.9 L526.0,372.7 L527.3,370.6 L528.6,368.5 L530.0,366.4 L531.4,364.3 L532.8,362.3 L534.2,360.2 L535.7,358.2 L537.2,356.2 L538.7,354.3 L540.3,352.3 L541.9,350.4 L543.5,348.4 L545.2,346.6 L546.9,344.7 L548.6,342.9 L550.4,341.1 L552.1,339.4 L554.0,337.7 L555.8,336.0 L557.7,334.4 L559.7,332.8 L561.6,331.3 L563.7,329.9 L565.7,328.4 L567.8,327.1 L569.9,325.7 L572.0,324.4 L574.1,323.2 L576.3,322.0 L578.5,320.8 L580.7,319.7 L583.0,318.6 L585.2,317.5 L587.5,316.4 L589.8,315.4 L592.1,314.4 L594.4,313.4 L596.7,312.5 L599.1,311.6 L601.4,310.7 L603.8,309.8 L606.1,309.0 L608.5,308.3 L610.9,307.5 L613.3,306.9 L615.7,306.2 L618.2,305.6 L620.6,305.1 L623.1,304.6 L625.5,304.2 L628.0,303.8 L630.5,303.4 L632.9,303.1 L635.4,302.8 L637.9,302.6 L640.4,302.3 L642.9,302.1 L645.4,302.0 L647.9,301.8 L650.4,301.7 L652.9,301.6 L655.4,301.5 L657.9,301.4 L660.4,301.4 L662.9,301.3 L665.4,301.3 L667.9,301.3 L670.4,301.3 L672.9,301.3 L675.4,301.4 L677.9,301.5 L680.4,301.6 L682.9,301.7 L685.4,301.8 L687.9,302.0 L690.4,302.1 L692.9,302.3 L695.4,302.5 L697.9,302.8 L700.4,303.0 L702.9,303.3 L705.4,303.6 L707.9,303.9 L710.3,304.3 L712.8,304.6 L715.3,305.0 L717.8,305.4 L720.3,305.8 L722.8,306.2 L725.3,306.6 L727.8,306.9 L730.3,307.2 L732.7,307.4 L735.2,307.5 L737.7,307.6 L740.1,307.5 L742.6,307.3 L745.0,307.0 L747.5,306.6 L749.9,306.2 L752.3,305.7 L754.7,305.1 L757.1,304.5 L759.5,303.9 L761.9,303.2 L764.3,302.6 L766.7,301.8 L769.1,301.1 L771.5,300.4 L773.9,299.6 L776.2,298.8 L778.6,298.0 L781.0,297.2 L783.4,296.3 L785.7,295.5 L788.1,294.6 L790.5,293.8 L792.8,293.0 L795.2,292.1 L797.6,291.3 L800.0,290.4 L802.3,289.6 L804.7,288.8 L807.1,288.0 L809.5,287.2 L811.9,286.5 L814.3,285.7 L816.7,285.0 L819.1,284.2 L821.5,283.5 L823.9,282.8 L826.3,282.2 L828.7,281.5 L831.1,280.8 L833.5,280.2 L836.0,279.6 L838.4,279.0 L840.8,278.5 L843.3,277.9 L845.7,277.4 L848.1,276.9 L850.6,276.4 L853.0,275.9 L855.5,275.5 L858.0,275.1 L860.4,274.7 L862.9,274.3 L865.4,273.9 L867.8,273.6 L870.3,273.3 L872.8,273.0 L875.3,272.7 L877.8,272.5 L880.3,272.3 L882.8,272.0 L885.3,271.8 L887.8,271.6 L890.3,271.4 L892.8,271.2 L895.3,271.1 L897.8,270.9 L900.3,270.7 L902.8,270.6 L905.3,270.4 L907.8,270.3 L910.3,270.1 L912.8,270.0 L915.3,269.8 L917.9,269.6 L920.4,269.4 L922.9,269.3 L925.4,269.1 L927.9,268.9 L930.4,268.7 L932.8,268.4 L935.3,268.2 L937.8,268.0 L940.3,267.7 L942.8,267.4 L945.3,267.1 L947.7,266.8 L950.2,266.4 L952.7,266.1 L955.1,265.7 L957.6,265.2 L960.0,264.8 L962.5,264.3 L964.9,263.8 L967.4,263.3 L969.8,262.7 L972.2,262.1 L974.6,261.5 L977.0,260.8 L979.4,260.1 L981.8,259.4 L984.2,258.7 L986.6,258.0 L989.0,257.2 L991.4,256.5 L993.8,255.8 L996.2,255.0 L998.6,254.3 L1001.0,253.6 L1003.4,253.0 L1005.8,252.3 L1008.2,251.7 L1010.6,251.1 L1013.1,250.6 L1015.5,250.1 L1018.0,249.6 L1020.4,249.2 L1022.9,248.8 L1025.4,248.4 L1027.8,248.1 L1030.3,247.8 L1032.8,247.6 L1035.3,247.3 L1037.8,247.1 L1040.3,246.9 L1042.8,246.7 L1045.3,246.6 L1047.8,246.4 L1050.3,246.2 L1052.9,246.1 L1055.4,245.9 L1057.9,245.8 L1060.4,245.6 L1062.9,245.4 L1065.4,245.2 L1067.9,245.0 L1070.4,244.8 L1072.9,244.7 L1075.4,244.5 L1077.9,244.3 L1080.4,244.1 L1082.9,243.9 L1085.4,243.7 L1087.9,243.5 L1090.4,243.3 L1092.9,243.1 L1095.4,242.9 L1097.9,242.7 L1100.4,242.5 L1102.9,242.3 L1105.4,242.2 L1107.9,242.0 L1110.4,241.8 L1112.9,241.7 L1115.4,241.6 L1117.8,241.4 L1120.3,241.3 L1122.8,241.2 L1125.3,241.1 L1127.8,241.1 L1130.3,241.0 L1132.8,241.0 L1135.3,240.9 L1137.8,240.9 L1140.3,240.9 L1142.8,240.9 L1145.3,240.9 L1147.8,241.0 L1150.3,241.0 L1152.8,241.1 L1155.3,241.1 L1157.8,241.2 L1160.3,241.3 L1162.8,241.4 L1165.3,241.4 L1167.8,241.5 L1170.3,241.6 L1172.8,241.7 L1175.3,241.7 L1177.8,241.8 L1180.3,241.8 L1182.9,241.9 L1185.4,241.9 L1187.9,242.0 L1190.4,242.0 L1192.9,242.0 L1195.4,242.0 L1197.9,242.0 L1200.4,241.9 L1202.9,241.9 L1205.4,241.8 L1207.9,241.8 L1210.4,241.7 L1212.9,241.6 L1215.4,241.5 L1217.9,241.4 L1220.4,241.3 L1222.9,241.2 L1225.4,241.0 L1227.9,240.9 L1230.4,240.7 L1232.9,240.5 L1235.4,240.4 L1237.9,240.2 L1240.4,240.0 L1242.9,239.8 L1245.4,239.6 L1247.9,239.4 L1250.4,239.1 L1252.9,238.9 L1255.4,238.7 L1257.8,238.4 L1260.3,238.2 L1262.8,237.9 L1265.3,237.7 L1267.8,237.4 L1270.3,237.1 L1272.8,236.8 L1275.3,236.5 L1277.8,236.3 L1280.3,236.0 L1282.8,235.7 L1285.2,235.3 L1287.7,235.0 L1290.2,234.7 L1292.7,234.4 L1295.2,234.1 L1297.7,233.7 L1300.2,233.4 L1302.6,233.1 L1305.1,232.8 L1307.6,232.4 L1310.1,232.1 L1312.6,231.7 L1315.1,231.4 L1317.5,231.0 L1320.0,230.7 L1322.5,230.3 L1325.0,230.0 L1327.4,229.7 L1329.9,229.3 L1332.4,229.0 L1334.9,228.6 L1337.3,228.3 L1339.8,228.0 L1342.3,227.7 L1344.8,227.4 L1347.3,227.2 L1349.7,226.9 L1352.2,226.7 L1354.7,226.5 L1357.2,226.3 L1359.7,226.1 L1362.2,226.0 L1364.7,225.8 L1367.2,225.7 L1369.7,225.6 L1372.2,225.5 L1374.7,225.4 L1377.2,225.3 L1379.7,225.2 L1382.2,225.1 L1384.7,224.9 L1387.2,224.8 L1389.7,224.7 L1392.2,224.6 L1394.7,224.4 L1397.2,224.3 L1399.7,224.1 L1402.2,223.9 L1404.7,223.8 L1407.2,223.6 L1409.7,223.5 L1412.2,223.3 L1414.7,223.2 L1417.2,223.0 L1419.7,222.9 L1422.2,222.7 L1424.7,222.6 L1427.2,222.5 L1429.7,222.4 L1432.2,222.3 L1434.7,222.3 L1437.2,222.2 L1439.7,222.2 L1442.2,222.2 L1444.7,222.1 L1447.2,222.1 L1449.7,222.1 L1452.2,222.1 L1454.7,222.1 L1457.2,222.1 L1459.8,222.1 L1462.3,222.2 L1464.8,222.2 L1467.3,222.2 L1469.8,222.2 L1472.3,222.2 L1474.8,222.3 L1477.3,222.3 L1479.8,222.3 L1482.3,222.3 L1484.8,222.3 L1487.3,222.3 L1489.8,222.3 L1492.3,222.2 L1494.8,222.2 L1497.3,222.2 L1499.8,222.1 L1502.3,222.0 L1504.8,221.9 L1507.3,221.8 L1509.8,221.7 L1512.3,221.6 L1514.8,221.4 L1517.2,221.3 L1519.7,221.1 L1522.2,220.9 L1524.7,220.7 L1527.2,220.4 L1529.7,220.1 L1532.2,219.8 L1534.7,219.5" fill="none" stroke="#000" stroke-width="3.2" stroke-linejoin="round" stroke-linecap="round"/>
<path d="M176.5,1054.2 C176.8,1054.2 178.9,1054.3 180.0,1054.0 C181.1,1053.7 185.8,1051.3 187.3,1050.7 C188.8,1050.1 192.8,1048.1 195.3,1048.0 C197.8,1047.9 209.0,1049.9 212.0,1050.0 C215.0,1050.1 223.0,1048.7 225.0,1049.0 C227.0,1049.3 230.5,1052.7 232.0,1053.0 C233.5,1053.3 238.6,1052.9 240.0,1052.5 C241.4,1052.1 244.8,1049.2 246.0,1049.0 C247.2,1048.8 250.5,1050.2 252.0,1050.7 C253.5,1051.2 257.7,1053.6 260.7,1054.0 C263.7,1054.4 278.6,1055.0 282.0,1054.7 C285.4,1054.4 290.7,1052.0 294.5,1051.4 C298.3,1050.8 314.4,1048.6 320.0,1048.3 C325.6,1048.0 344.9,1048.0 350.0,1048.0 C355.1,1048.0 368.8,1048.7 371.0,1048.5 C373.2,1048.3 372.1,1047.0 372.5,1046.0 C372.9,1045.0 374.1,1039.5 374.5,1038.0 C374.9,1036.5 376.3,1031.2 376.5,1030.5 L376.5,1030.5 L377.6,1028.3 L378.8,1026.0 L380.0,1023.9 L381.3,1021.7 L382.6,1019.6 L384.0,1017.5 L385.3,1015.4 L386.7,1013.3 L388.0,1011.3 L389.4,1009.2 L390.7,1007.0 L392.0,1004.9 L393.2,1002.7 L394.4,1000.5 L395.5,998.3 L396.6,996.1 L397.7,993.8 L398.7,991.5 L399.7,989.2 L400.6,986.9 L401.6,984.6 L402.5,982.2 L403.4,979.9 L404.3,977.5 L405.2,975.1 L406.0,972.8 L406.9,970.4 L407.7,968.0 L408.6,965.6 L409.5,963.3 L410.3,960.9 L411.2,958.6 L412.1,956.2 L413.0,953.9 L413.8,951.5 L414.7,949.2 L415.6,946.9 L416.6,944.5 L417.5,942.2 L418.4,939.9 L419.3,937.6 L420.3,935.3 L421.2,932.9 L422.2,930.6 L423.2,928.3 L424.1,926.0 L425.1,923.7 L426.1,921.4 L427.1,919.1 L428.1,916.8 L429.1,914.5 L430.1,912.2 L431.1,909.9 L432.2,907.6 L433.2,905.3 L434.2,903.0 L435.2,900.7 L436.2,898.4 L437.2,896.1 L438.2,893.8 L439.2,891.5 L440.2,889.2 L441.1,886.9 L442.1,884.5 L443.0,882.2 L443.9,879.9 L444.8,877.5 L445.7,875.2 L446.6,872.8 L447.4,870.5 L448.2,868.1 L449.0,865.7 L449.8,863.4 L450.5,861.0 L451.3,858.6 L451.9,856.2 L452.6,853.8 L453.2,851.4 L453.8,848.9 L454.4,846.5 L454.9,844.0 L455.5,841.6 L456.0,839.1 L456.4,836.7 L456.9,834.2 L457.4,831.7 L457.8,829.3 L458.2,826.8 L458.6,824.3 L459.0,821.8 L459.4,819.3 L459.8,816.8 L460.1,814.4 L460.5,811.9 L460.9,809.4 L461.2,806.9 L461.6,804.4 L461.9,801.9 L462.3,799.4 L462.6,796.9 L463.0,794.4 L463.3,791.9 L463.7,789.4 L464.1,786.9 L464.5,784.4 L464.9,781.9 L465.3,779.4 L465.7,776.9 L466.2,774.5 L466.6,772.0 L467.1,769.5 L467.6,767.1 L468.0,764.6 L468.5,762.1 L469.0,759.7 L469.5,757.2 L470.1,754.7 L470.6,752.3 L471.1,749.8 L471.6,747.4 L472.2,744.9 L472.7,742.5 L473.2,740.0 L473.8,737.6 L474.3,735.1 L474.8,732.7 L475.4,730.2 L475.9,727.8 L476.4,725.3 L477.0,722.9 L477.5,720.4 L478.0,717.9 L478.5,715.5 L479.0,713.0 L479.5,710.6 L480.0,708.1 L480.5,705.6 L481.0,703.2 L481.5,700.7 L481.9,698.3 L482.4,695.8 L482.9,693.3 L483.3,690.9 L483.8,688.4 L484.3,685.9 L484.7,683.4 L485.2,681.0 L485.6,678.5 L486.1,676.0 L486.5,673.6 L487.0,671.1 L487.4,668.6 L487.9,666.1 L488.3,663.7 L488.8,661.2 L489.2,658.7 L489.7,656.3 L490.2,653.8 L490.6,651.3 L491.1,648.9 L491.5,646.4 L492.0,643.9 L492.5,641.4 L492.9,639.0 L493.4,636.5 L493.9,634.0 L494.4,631.6 L494.9,629.1 L495.4,626.7 L495.9,624.2 L496.4,621.7 L496.9,619.3 L497.4,616.8 L497.9,614.4 L498.4,611.9 L499.0,609.4 L499.5,607.0 L500.1,604.5 L500.6,602.1 L501.2,599.6 L501.7,597.2 L502.3,594.8 L502.9,592.3 L503.5,589.9 L504.1,587.4 L504.7,585.0 L505.4,582.6 L506.0,580.1 L506.6,577.7 L507.3,575.3 L507.9,572.9 L508.6,570.4 L509.3,568.0 L509.9,565.6 L510.6,563.2 L511.3,560.8 L512.0,558.3 L512.7,555.9 L513.4,553.5 L514.1,551.1 L514.9,548.7 L515.6,546.3 L516.3,543.9 L517.1,541.5 L517.8,539.1 L518.5,536.7 L519.3,534.3 L520.0,531.9 L520.8,529.5 L521.6,527.1 L522.3,524.7 L523.1,522.3 L523.9,519.9 L524.7,517.5 L525.4,515.1 L526.2,512.8 L527.0,510.4 L527.8,508.0 L528.6,505.6 L529.4,503.2 L530.2,500.9 L531.0,498.5 L531.8,496.1 L532.6,493.7 L533.4,491.3 L534.2,489.0 L535.0,486.6 L535.8,484.2 L536.6,481.9 L537.4,479.5 L538.2,477.1 L539.0,474.7 L539.8,472.3 L540.6,469.9 L541.3,467.5 L542.1,465.1 L542.8,462.7 L543.6,460.3 L544.4,457.9 L545.2,455.5 L546.1,453.2 L547.0,450.9 L548.1,448.6 L549.2,446.4 L550.3,444.2 L551.6,442.0 L552.9,439.9 L554.2,437.8 L555.6,435.6 L556.9,433.5 L558.2,431.4 L559.5,429.2 L560.8,427.0 L562.0,424.8 L563.1,422.5 L564.3,420.3 L565.6,418.1 L566.9,416.0 L568.3,414.0 L569.9,412.1 L571.6,410.4 L573.4,408.7 L575.3,407.0 L577.2,405.4 L579.1,403.7 L581.0,402.1 L582.9,400.4 L584.8,398.8 L586.7,397.2 L588.6,395.5 L590.6,393.9 L592.5,392.3 L594.5,390.8 L596.5,389.3 L598.6,387.8 L600.6,386.5 L602.8,385.2 L604.9,384.0 L607.1,383.0 L609.4,382.0 L611.7,381.2 L614.1,380.5 L616.6,380.0 L619.1,379.6 L621.6,379.2 L624.1,378.8 L626.7,378.5 L629.2,378.2 L631.8,377.8 L634.3,377.3 L636.7,376.8 L639.2,376.1 L641.5,375.3 L643.8,374.4 L646.1,373.3 L648.3,372.2 L650.6,371.0 L652.8,369.7 L655.0,368.5 L657.2,367.4 L659.5,366.3 L661.8,365.3 L664.4,365.2 L667.1,365.1 L669.7,365.2 L672.3,365.3 L674.9,365.5 L677.5,365.7 L680.1,366.0 L682.7,366.3 L685.3,366.7 L687.9,367.1 L690.5,367.6 L693.0,368.0 L695.6,368.4 L698.2,368.9 L700.8,369.3 L703.4,369.7 L706.0,370.0 L708.5,370.4 L711.1,370.6 L713.7,370.9 L716.3,371.0 L718.9,371.1 L721.4,371.1 L724.0,371.0 L726.6,370.9 L729.2,370.6 L731.8,370.3 L734.4,370.0 L737.0,369.6 L739.6,369.2 L742.2,368.8 L744.8,368.3 L747.4,367.9 L750.0,367.5 L752.6,367.1 L755.2,366.8 L757.8,366.5 L760.4,366.3 L762.3,368.3 L764.2,370.5 L766.1,372.6 L767.9,374.8 L769.7,377.0 L771.5,379.2 L773.3,381.4 L775.0,383.6 L776.7,385.9 L778.1,388.2 L779.3,390.7 L780.1,393.4 L780.4,396.4 L780.6,398.9 L780.9,401.4 L781.1,403.9 L781.3,406.4 L781.5,408.9 L781.8,411.4 L782.0,413.9 L782.2,416.4 L782.5,418.9 L782.7,421.4 L782.9,423.9 L783.2,426.4 L783.4,428.9 L783.7,431.4 L783.9,433.9 L784.1,436.4 L784.4,438.9 L784.6,441.4 L784.9,443.9 L785.1,446.4 L785.3,448.9 L785.6,451.4 L785.8,453.9 L786.1,456.4 L786.3,458.9 L786.6,461.4 L786.8,463.9 L787.1,466.4 L787.3,468.9 L787.6,471.4 L787.8,473.9 L788.1,476.4 L788.3,478.9 L788.6,481.4 L788.8,483.9 L789.1,486.3 L789.3,488.8 L789.6,491.3 L789.9,493.8 L790.1,496.3 L790.4,498.8 L790.6,501.3 L790.9,503.8 L791.2,506.3 L791.4,508.8 L791.7,511.3 L791.9,513.8 L792.2,516.3 L792.5,518.8 L792.7,521.3 L793.0,523.8 L793.3,526.3 L793.6,528.8 L793.8,531.3 L794.1,533.8 L794.4,536.3 L794.6,538.8 L794.9,541.3 L795.2,543.8 L795.5,546.3 L795.8,548.8 L796.0,551.2 L796.3,553.7 L796.6,556.2 L796.9,558.7 L797.2,561.2 L797.4,563.7 L797.7,566.2 L798.0,568.7 L798.3,571.2 L798.6,573.7 L798.9,576.2 L799.2,578.7 L799.5,581.2 L799.7,583.7 L800.0,586.2 L800.3,588.7 L800.6,591.2 L800.9,593.6 L801.2,596.1 L801.5,598.6 L801.8,601.1 L802.1,603.6 L802.4,606.1 L802.7,608.6 L803.0,611.1 L803.3,613.6 L803.6,616.1 L803.9,618.6 L804.2,621.1 L804.5,623.6 L804.9,626.1 L805.2,628.5 L805.5,631.0 L805.8,633.5 L806.1,636.0 L806.4,638.5 L806.7,641.0 L807.0,643.5 L807.4,646.0 L807.7,648.5 L808.0,651.0 L808.3,653.5 L808.6,655.9 L809.0,658.4 L809.3,660.9 L809.6,663.4 L809.9,665.9 L810.3,668.4 L810.6,670.9 L810.9,673.4 L811.3,675.9 L811.6,678.4 L811.9,680.8 L812.3,683.3 L812.6,685.8 L812.9,688.3 L813.3,690.8 L813.6,693.3 L814.0,695.8 L814.3,698.3 L814.6,700.8 L815.0,703.2 L815.3,705.7 L815.7,708.2 L816.0,710.7 L816.4,713.2 L816.7,715.7 L817.1,718.2 L817.4,720.7 L817.8,723.1 L818.1,725.6 L818.5,728.1 L818.9,730.6 L819.2,733.1 L819.6,735.6 L820.0,738.1 L820.3,740.5 L820.7,743.0 L821.1,745.5 L821.4,748.0 L821.8,750.5 L822.2,753.0 L822.6,755.4 L823.0,757.9 L823.3,760.4 L823.7,762.9 L824.1,765.4 L824.5,767.8 L824.9,770.3 L825.3,772.8 L825.7,775.3 L826.1,777.8 L826.5,780.2 L826.9,782.7 L827.3,785.2 L827.8,787.7 L828.2,790.1 L828.6,792.6 L829.0,795.1 L829.4,797.6 L829.9,800.0 L830.3,802.5 L830.7,805.0 L831.2,807.4 L831.6,809.9 L832.1,812.4 L832.5,814.8 L833.0,817.3 L833.4,819.8 L833.9,822.2 L834.4,824.7 L834.8,827.2 L835.3,829.6 L835.8,832.1 L836.2,834.5 L836.7,837.0 L837.2,839.5 L837.7,841.9 L838.2,844.4 L838.7,846.8 L839.2,849.3 L839.7,851.7 L840.2,854.2 L840.7,856.7 L841.2,859.1 L841.8,861.6 L842.3,864.0 L842.8,866.5 L843.4,868.9 L843.9,871.3 L844.4,873.8 L845.0,876.2 L845.6,878.7 L846.1,881.1 L846.7,883.6 L847.2,886.0 L847.8,888.4 L848.4,890.9 L849.0,893.3 L849.6,895.7 L850.2,898.2 L850.8,900.6 L851.4,903.0 L852.0,905.5 L852.7,907.9 L853.3,910.3 L853.9,912.8 L854.6,915.2 L855.2,917.6 L855.9,920.0 L856.6,922.5 L857.2,924.9 L857.9,927.3 L858.6,929.7 L859.3,932.2 L860.0,934.6 L860.8,937.0 L861.5,939.4 L862.3,941.8 L863.0,944.2 L863.8,946.6 L864.6,949.0 L865.5,951.3 L866.3,953.7 L867.2,956.0 L868.1,958.4 L869.0,960.7 L870.0,963.0 L871.0,965.3 L872.0,967.6 L873.0,969.9 L874.1,972.2 L875.2,974.4 L876.3,976.6 L877.5,978.8 L878.7,981.0 L879.9,983.2 L881.2,985.4 L882.5,987.5 L883.9,989.6 L885.2,991.7 L886.6,993.8 L888.0,996.0 L889.4,998.1 L890.8,1000.2 L892.2,1002.3 L893.5,1004.4 L894.9,1006.5 L896.2,1008.6 L897.5,1010.8 L898.8,1012.9 L900.0,1015.1 L901.3,1017.3 L902.4,1019.5 L903.5,1021.8 L904.6,1024.1 L905.6,1026.4 L906.6,1028.7 L907.5,1031.0 L908.5,1033.3 L909.4,1035.7 L910.4,1038.0 L911.4,1040.3 L912.4,1042.6 L913.5,1044.8 L914.6,1047.0 L915.8,1049.2 L917.1,1051.4 L918.4,1053.5 L919.8,1055.6 L921.2,1057.6 L922.7,1059.7 L924.1,1061.7 L925.6,1063.8 L927.0,1065.8 L928.4,1067.9 L929.8,1070.0 L931.2,1072.1 L932.6,1074.2 L933.9,1076.3 L935.2,1078.5 L936.5,1080.6 L937.8,1082.7 L939.1,1084.9 L940.3,1087.1 L941.6,1089.3 L942.8,1091.5 L944.0,1093.7 L945.2,1095.9 L946.3,1098.1 L947.5,1100.3 L948.6,1102.6 L949.7,1104.8 L950.8,1107.1 L951.9,1109.3 L953.0,1111.6 L954.1,1113.9 L955.1,1116.2 L956.1,1118.5 L957.2,1120.7 L958.2,1123.0 L959.2,1125.3 L960.2,1127.7 L961.1,1130.0 L962.1,1132.3 L963.1,1134.6 L964.0,1136.9 L964.9,1139.3 L965.9,1141.6 L966.8,1143.9 L967.7,1146.2 L968.6,1148.6 L969.5,1150.9 L970.4,1153.3 L971.3,1155.6 L972.1,1158.0 L973.0,1160.3 L973.8,1162.7 L974.6,1165.0 L975.4,1167.4 L976.2,1169.8 L977.0,1172.2 L977.8,1174.6 L978.6,1177.0 L979.3,1179.4 L980.0,1181.8 L980.7,1184.2 L981.4,1186.7 L982.1,1189.1 L982.8,1191.6 L983.4,1194.0 L984.1,1196.4 L984.8,1198.9 L985.5,1201.3 L986.3,1203.7 L987.1,1206.1 L988.0,1208.4 L988.9,1210.7 L989.8,1213.0 L990.9,1215.3 L992.0,1217.5 L993.2,1219.6 L994.6,1221.7 L996.0,1223.7 L997.5,1225.7 L999.0,1227.7 L1000.7,1229.6 L1002.4,1231.4 L1004.1,1233.2 L1005.9,1235.0 L1007.7,1236.8 L1009.6,1238.6 L1011.4,1240.3 L1013.3,1242.0 L1015.1,1243.7 L1017.0,1245.4 L1018.8,1247.1 L1020.7,1248.8 L1022.5,1250.5 L1024.2,1252.3 L1026.0,1254.1 L1027.7,1255.9 L1030.4,1256.4 L1033.0,1256.5 L1035.5,1256.5 L1037.8,1256.2 L1040.1,1255.8 L1042.4,1255.1 L1044.7,1254.4 L1047.0,1253.6 L1049.4,1252.8 L1051.8,1252.0 L1054.3,1251.2 L1056.9,1250.4 L1059.4,1249.8 L1061.9,1249.3 L1064.4,1249.0 L1066.9,1248.9 L1069.3,1249.0 L1071.7,1249.4 L1074.1,1249.9 L1076.4,1250.6 L1078.7,1251.5 L1080.9,1252.5 L1083.2,1253.6 L1085.4,1254.8 L1087.6,1256.0 L1089.8,1257.3 L1092.1,1258.5 L1094.3,1259.8 L1096.5,1261.1 L1098.8,1262.2 L1101.1,1263.3 L1103.4,1264.4 L1105.8,1265.2 L1108.2,1266.0 L1110.6,1266.6 L1113.1,1267.0 L1115.5,1267.3 L1118.0,1267.4 L1120.5,1267.4 L1123.0,1267.2 L1125.5,1266.9 L1127.9,1266.4 L1130.3,1265.7 L1132.6,1264.9 L1134.9,1264.0 L1137.2,1262.9 L1139.4,1261.7 L1141.6,1260.4 L1143.8,1259.1 L1146.0,1257.8 L1148.1,1256.4 L1150.3,1255.1 L1152.5,1253.8 L1154.8,1252.5 L1157.0,1251.4 L1159.3,1250.3 L1161.6,1249.4 L1164.0,1248.6 L1166.4,1248.0 L1168.9,1247.5 L1171.4,1247.1 L1173.8,1246.9 L1176.3,1246.8 L1178.8,1246.9 L1181.3,1247.2 L1183.8,1247.6 L1186.3,1248.1 L1188.7,1248.9 L1191.2,1249.7 L1193.6,1250.5 L1196.0,1251.4 L1198.4,1252.1 L1200.9,1252.7 L1203.3,1253.1 L1205.8,1253.4 L1208.3,1253.6 L1210.8,1253.8 L1213.3,1253.8 L1215.8,1253.8 L1218.4,1253.7 L1220.9,1253.6 L1223.4,1253.4 L1225.9,1253.2 L1228.5,1253.1 L1231.0,1252.9 L1233.5,1252.8 L1236.1,1252.7 L1238.6,1252.6 L1241.1,1252.5 L1243.6,1252.5 L1246.1,1252.5 L1248.7,1252.5 L1251.2,1252.5 L1253.7,1252.5 L1256.2,1252.5 L1258.7,1252.6 L1261.2,1252.6 L1263.7,1252.7 L1266.2,1252.8 L1268.7,1252.9 L1271.2,1253.0 L1273.7,1253.1 L1276.2,1253.3 L1278.7,1253.4 L1281.3,1253.6 L1283.8,1253.7 L1286.3,1253.9 L1288.8,1254.0 L1291.3,1254.2 L1293.8,1254.4 L1296.3,1254.6 L1298.8,1254.7 L1301.3,1254.9 L1303.8,1255.1 L1306.3,1255.3 L1308.8,1255.5 L1311.3,1255.7 L1313.8,1255.8 L1316.3,1256.0 L1318.8,1256.2 L1321.3,1256.3 L1323.9,1256.5 L1326.4,1256.7 L1328.9,1256.8 L1331.4,1257.0 L1333.9,1257.1 L1336.5,1257.2 L1339.0,1257.3 L1341.5,1257.4 L1344.1,1257.5 L1346.6,1257.6 L1349.1,1257.7 L1351.7,1257.7 L1354.1,1257.6 L1356.6,1257.4 L1359.0,1256.9 L1361.3,1256.2 L1363.5,1255.1 L1365.6,1253.8 L1367.6,1252.2 L1369.6,1250.6 L1371.7,1249.1 L1373.8,1247.7 L1376.0,1246.7 L1378.3,1246.0 L1380.8,1245.5 L1383.3,1245.3 L1385.8,1245.4 L1388.4,1245.6 L1390.9,1245.9 L1393.5,1246.4 L1396.0,1247.0 L1398.5,1247.6 L1401.0,1248.2 L1403.4,1248.9 L1405.9,1249.6 L1408.3,1250.3 L1410.7,1250.9 L1413.1,1251.6 L1415.6,1252.1 L1418.0,1252.7 L1420.5,1253.2 L1422.9,1253.6 L1425.4,1254.0 L1427.9,1254.3 L1430.3,1254.5 L1432.8,1254.7 L1435.3,1254.8 L1437.8,1254.9 L1440.3,1254.8 L1442.8,1254.7 L1445.3,1254.5 L1447.8,1254.3 L1450.3,1254.0 L1452.8,1253.7 L1455.3,1253.3 L1457.8,1252.8 L1460.3,1252.4 L1462.8,1251.9 L1465.3,1251.4 L1467.8,1250.9 L1470.2,1250.4 L1472.7,1249.8 L1475.2,1249.3 L1477.7,1248.8 L1480.2,1248.3 L1482.7,1247.8 L1485.1,1247.5 L1487.6,1247.3 L1490.1,1247.1 L1492.5,1247.2 L1495.0,1247.3 L1497.4,1247.7 L1499.8,1248.3 L1502.3,1249.0 L1504.7,1249.9 L1507.1,1250.8 L1509.6,1251.8 L1512.0,1252.7 L1514.5,1253.5 L1516.9,1254.2 L1519.4,1254.7 L1521.9,1254.9 L1524.4,1254.8 L1527.0,1254.3 L1529.6,1253.4 L1532.2,1252.0 L1534.8,1250.1" fill="none" stroke="#000" stroke-width="3.2" stroke-linejoin="round" stroke-linecap="round"/>
<rect x="758.1" y="111.0" width="2.7" height="50" fill="#777"/><rect x="760.8" y="111.0" width="2.9" height="50" fill="#c8c8c8"/><rect x="758.1" y="111.0" width="5.6" height="3" fill="#fff" fill-opacity="0.45"/><rect x="751.7" y="145.0" width="3" height="3" fill="#999"/><rect x="751.7" y="148.0" width="3" height="6" fill="#111"/><rect x="751.7" y="154.0" width="3" height="6" fill="#888"/><rect x="767.2" y="145.0" width="3" height="3" fill="#999"/><rect x="767.2" y="148.0" width="3" height="6" fill="#111"/><rect x="767.2" y="154.0" width="3" height="6" fill="#888"/><rect x="754.7" y="151.0" width="3.4" height="3" fill="#aaa"/><rect x="763.7" y="151.0" width="3.5" height="3" fill="#aaa"/><path d="M755.0,154.0 L758.1,154.0 L758.1,160.5 L763.7,160.5 L763.7,154.0 L766.9,154.0 L766.9,167.0 L765.5,172.0 L763.9,176.0 L763.9,184.0 L762.5,188.0 L759.3,188.0 L758.0,184.0 L758.0,176.0 L756.3,172.0 L755.0,167.0 Z" fill="#000"/>
<rect x="758.1" y="379.5" width="2.7" height="50" fill="#777"/><rect x="760.8" y="379.5" width="2.9" height="50" fill="#c8c8c8"/><rect x="758.1" y="379.5" width="5.6" height="3" fill="#fff" fill-opacity="0.45"/><rect x="751.7" y="413.5" width="3" height="3" fill="#999"/><rect x="751.7" y="416.5" width="3" height="6" fill="#111"/><rect x="751.7" y="422.5" width="3" height="6" fill="#888"/><rect x="767.2" y="413.5" width="3" height="3" fill="#999"/><rect x="767.2" y="416.5" width="3" height="6" fill="#111"/><rect x="767.2" y="422.5" width="3" height="6" fill="#888"/><rect x="754.7" y="419.5" width="3.4" height="3" fill="#aaa"/><rect x="763.7" y="419.5" width="3.5" height="3" fill="#aaa"/><path d="M755.0,422.5 L758.1,422.5 L758.1,429.0 L763.7,429.0 L763.7,422.5 L766.9,422.5 L766.9,435.5 L765.5,440.5 L763.9,444.5 L763.9,452.5 L762.5,456.5 L759.3,456.5 L758.0,452.5 L758.0,444.5 L756.3,440.5 L755.0,435.5 Z" fill="#000"/>
<path d="M364.45,1143 L364.45,1071" stroke="#111" stroke-width="2.7" fill="none"/>
<path d="M358.4,1111.5 L361.2,1090 L363.6,1076 M365.3,1076 L369.4,1091 L373.9,1111.5" stroke="#000" stroke-width="2.8" fill="none" stroke-linecap="butt"/>
<path d="M360.8,1092 L363.1,1076 L363.1,1070.5 L364.45,1069.6 L365.8,1070.5 L365.8,1075 L369.6,1090 L368.6,1096 L365.8,1096 L363.1,1101 Z" fill="#000"/>
</svg></body></html>
